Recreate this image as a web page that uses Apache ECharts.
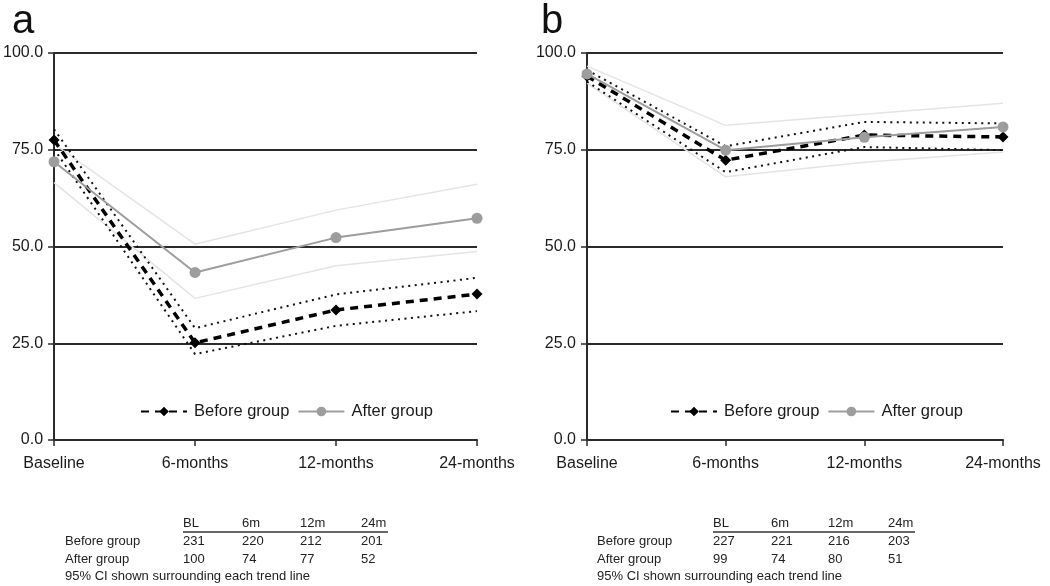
<!DOCTYPE html>
<html><head><meta charset="utf-8">
<script src="https://cdn.jsdelivr.net/npm/echarts@6/dist/echarts.min.js"></script>
<style>html,body{margin:0;padding:0;background:#fff}#c{width:1050px;height:586px}</style>
</head><body><div id="c"></div>
<script>
const categories = ['Baseline', '6-months', '12-months', '24-months'];
const yTicks = [0, 25, 50, 75, 100];

// Panel a
const aBefore = [77.5, 25.1, 33.6, 37.7];
const aBeforeUpper = [80.3, 28.9, 37.6, 41.9];
const aBeforeLower = [75.2, 22.2, 29.5, 33.3];
const aAfter = [71.9, 43.3, 52.3, 57.3];
const aAfterUpper = [76.5, 50.6, 59.4, 66.1];
const aAfterLower = [66.5, 36.6, 45.0, 48.7];

// Panel b
const bBefore = [94.0, 72.3, 78.8, 78.3];
const bBeforeUpper = [95.6, 75.9, 82.2, 81.8];
const bBeforeLower = [92.6, 69.2, 75.7, 74.9];
const bAfter = [94.6, 74.9, 78.2, 80.9];
const bAfterUpper = [96.6, 81.3, 84.2, 87.0];
const bAfterLower = [92.2, 68.0, 71.8, 74.4];

// Tables
const tableHeader = ['BL', '6m', '12m', '24m'];
const aBeforeN = [231, 220, 212, 201];
const aAfterN = [100, 74, 77, 52];
const bBeforeN = [227, 221, 216, 203];
const bAfterN = [99, 74, 80, 51];
const rowLabels = ['Before group', 'After group'];
const note = '95% CI shown surrounding each trend line';

const FONT = '"Liberation Sans", Arial, sans-serif';
const dark = '#2b2b2b';

function makeGrid(left, width) { return { left: left, top: 53, width: width, height: 387 }; }
function makeX(gi) {
  return {
    type: 'category', gridIndex: gi, data: categories, boundaryGap: false,
    axisLine: { lineStyle: { color: dark, width: 2 } },
    axisTick: { show: true, length: 6, alignWithLabel: true, lineStyle: { color: dark, width: 1.5 } },
    axisLabel: { color: '#1a1a1a', fontSize: 16, fontFamily: FONT, margin: 16, showMinLabel: true, showMaxLabel: true },
    splitLine: { show: false }
  };
}
function makeY(gi) {
  return {
    type: 'value', gridIndex: gi, min: 0, max: 100, interval: 25,
    axisLine: { show: true, lineStyle: { color: dark, width: 2 } },
    axisTick: { show: true, length: 6, inside: false, lineStyle: { color: dark, width: 1.5 } },
    axisLabel: { color: '#1a1a1a', fontSize: 16, fontFamily: FONT, margin: 11, formatter: v => v.toFixed(1) },
    splitLine: { show: true, lineStyle: { color: dark, width: 2 } }
  };
}
function ciDot(gi, data) {
  return { type: 'line', xAxisIndex: gi, yAxisIndex: gi, data: data, symbol: 'none', silent: true,
    lineStyle: { color: '#111', width: 2, type: [2, 4.5] }, z: 3 };
}
function ciLight(gi, data) {
  return { type: 'line', xAxisIndex: gi, yAxisIndex: gi, data: data, symbol: 'none', silent: true,
    lineStyle: { color: '#e4e4e4', width: 1.5 }, z: 2 };
}
function before(gi, data) {
  return { name: 'Before group', type: 'line', xAxisIndex: gi, yAxisIndex: gi, data: data,
    symbol: 'diamond', symbolSize: 11, itemStyle: { color: '#000' },
    lineStyle: { color: '#000', width: 3.5, type: [8, 6] }, z: 4 };
}
function after(gi, data) {
  return { name: 'After group', type: 'line', xAxisIndex: gi, yAxisIndex: gi, data: data,
    symbol: 'circle', symbolSize: 11, itemStyle: { color: '#9d9d9d' },
    lineStyle: { color: '#9d9d9d', width: 2 }, z: 5 };
}

function tableGraphics(x0, colX, beforeN, afterN) {
  const els = [];
  const ts = (t, x, y) => ({ type: 'text', left: x, top: y, style: { text: t, fontSize: 13, fontFamily: FONT, fill: '#222' } });
  tableHeader.forEach((h, i) => els.push(ts(h, colX[i], 517)));
  els.push({ type: 'line', shape: { x1: colX[0], y1: 532, x2: colX[3] + 27, y2: 532 }, style: { stroke: '#333', lineWidth: 1.5 } });
  els.push(ts(rowLabels[0], x0, 535));
  els.push(ts(rowLabels[1], x0, 553));
  beforeN.forEach((v, i) => els.push(ts(String(v), colX[i], 535)));
  afterN.forEach((v, i) => els.push(ts(String(v), colX[i], 553)));
  els.push(ts(note, x0, 570));
  return els;
}

function legendFor(left) {
  return { data: ['Before group', 'After group'], left: left, top: 398, itemWidth: 46, itemHeight: 12, itemGap: 8,
    textStyle: { fontSize: 16.5, color: '#1a1a1a', fontFamily: FONT, padding: [0, 0, 0, 2] } };
}

const chart = echarts.init(document.getElementById('c'), null, { renderer: 'canvas' });
chart.setOption({
  backgroundColor: '#fff',
  animation: false,
  textStyle: { fontFamily: FONT },
  grid: [makeGrid(53, 424), makeGrid(587, 416)],
  xAxis: [makeX(0), makeX(1)],
  yAxis: [makeY(0), makeY(1)],
  legend: [legendFor(135), legendFor(665)],
  series: [
    ciLight(0, aAfterUpper), ciLight(0, aAfterLower), ciDot(0, aBeforeUpper), ciDot(0, aBeforeLower),
    before(0, aBefore), after(0, aAfter),
    ciLight(1, bAfterUpper), ciLight(1, bAfterLower), ciDot(1, bBeforeUpper), ciDot(1, bBeforeLower),
    before(1, bBefore), after(1, bAfter)
  ],
  graphic: [
    { type: 'text', left: 12, top: 2, style: { text: 'a', fontSize: 40, fontFamily: FONT, fill: '#111' } },
    { type: 'text', left: 541, top: 2, style: { text: 'b', fontSize: 40, fontFamily: FONT, fill: '#111' } }
  ].concat(tableGraphics(65, [183, 242, 300, 361], aBeforeN, aAfterN))
   .concat(tableGraphics(597, [713, 771, 828, 888], bBeforeN, bAfterN))
});
</script></body></html>
